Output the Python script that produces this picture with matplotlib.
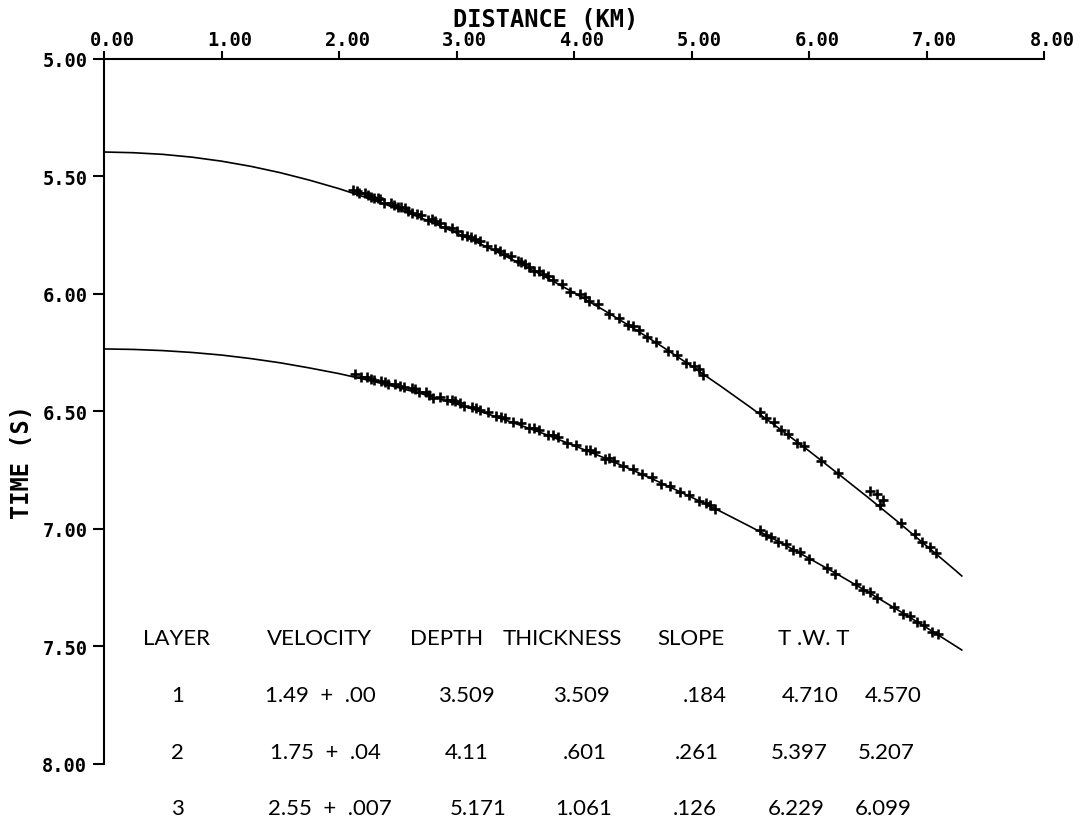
import matplotlib
matplotlib.use("Agg")
import matplotlib.pyplot as plt
import matplotlib.transforms as mtransforms

# fitted travel-time curves, km / s
curve_x = [0.0, 0.25, 0.5, 0.75, 1.0, 1.25, 1.5, 1.75, 2.0, 2.25, 2.5, 2.75, 3.0, 3.25,
           3.5, 3.75, 4.0, 4.25, 4.5, 4.75, 5.0, 5.25, 5.5, 5.75, 6.0, 6.25, 6.5, 6.75,
           7.0, 7.25, 7.3]
curve1_t = [5.396, 5.399, 5.406, 5.418, 5.435, 5.457, 5.484, 5.516, 5.552, 5.593, 5.638,
            5.687, 5.741, 5.798, 5.860, 5.926, 5.995, 6.068, 6.144, 6.224, 6.307, 6.393,
            6.482, 6.574, 6.668, 6.766, 6.865, 6.967, 7.072, 7.178, 7.200]
curve2_t = [6.234, 6.236, 6.241, 6.249, 6.260, 6.275, 6.293, 6.315, 6.339, 6.367, 6.398,
            6.431, 6.468, 6.508, 6.551, 6.596, 6.645, 6.696, 6.750, 6.806, 6.865, 6.926,
            6.990, 7.056, 7.125, 7.195, 7.268, 7.343, 7.420, 7.499, 7.515]

# picked arrivals, upper reflector
pick1_x = [2.12, 2.15, 2.17, 2.22, 2.25, 2.27, 2.30, 2.33, 2.35, 2.38, 2.44, 2.47, 2.50,
           2.53, 2.56, 2.59, 2.62, 2.66, 2.70, 2.76, 2.79, 2.82, 2.86, 2.90, 2.96, 3.00,
           3.05, 3.09, 3.12, 3.16, 3.20, 3.26, 3.33, 3.37, 3.40, 3.46, 3.52, 3.55, 3.58,
           3.62, 3.66, 3.70, 3.74, 3.78, 3.82, 3.90, 3.97, 4.05, 4.09, 4.13, 4.20, 4.30,
           4.38, 4.46, 4.50, 4.55, 4.62, 4.70, 4.80, 4.88, 4.95, 5.02, 5.06, 5.10, 5.58,
           5.63, 5.70, 5.76, 5.82, 5.90, 5.96, 6.10, 6.25, 6.52, 6.58, 6.60, 6.63, 6.78,
           6.90, 6.96, 7.03, 7.08]
pick1_t = [5.556, 5.563, 5.569, 5.571, 5.580, 5.588, 5.590, 5.593, 5.598, 5.611, 5.614,
           5.620, 5.631, 5.632, 5.634, 5.647, 5.656, 5.660, 5.666, 5.686, 5.683, 5.690,
           5.700, 5.713, 5.718, 5.733, 5.748, 5.752, 5.758, 5.765, 5.774, 5.796, 5.807,
           5.818, 5.832, 5.838, 5.859, 5.862, 5.871, 5.884, 5.904, 5.903, 5.915, 5.925,
           5.941, 5.957, 5.990, 6.002, 6.013, 6.030, 6.044, 6.087, 6.101, 6.134, 6.137,
           6.152, 6.185, 6.203, 6.244, 6.260, 6.292, 6.308, 6.320, 6.346, 6.503, 6.527,
           6.546, 6.580, 6.594, 6.634, 6.648, 6.710, 6.762, 6.838, 6.853, 6.896, 6.878,
           6.976, 7.022, 7.057, 7.075, 7.102]

# picked arrivals, lower reflector
pick2_x = [2.14, 2.19, 2.24, 2.27, 2.30, 2.36, 2.39, 2.42, 2.48, 2.52, 2.55, 2.62, 2.65,
           2.68, 2.74, 2.77, 2.80, 2.86, 2.92, 2.96, 2.99, 3.03, 3.06, 3.13, 3.17, 3.20,
           3.27, 3.34, 3.38, 3.41, 3.48, 3.55, 3.62, 3.66, 3.70, 3.78, 3.82, 3.86, 3.94,
           4.02, 4.10, 4.14, 4.18, 4.26, 4.30, 4.34, 4.42, 4.50, 4.58, 4.66, 4.74, 4.82,
           4.90, 4.98, 5.06, 5.12, 5.16, 5.20, 5.58, 5.63, 5.68, 5.74, 5.80, 5.86, 5.92,
           6.00, 6.15, 6.22, 6.40, 6.46, 6.52, 6.58, 6.72, 6.80, 6.86, 6.92, 6.98, 7.05,
           7.10]
pick2_t = [6.342, 6.354, 6.352, 6.360, 6.368, 6.369, 6.374, 6.384, 6.385, 6.392, 6.398,
           6.400, 6.406, 6.418, 6.418, 6.428, 6.441, 6.438, 6.452, 6.452, 6.456, 6.466,
           6.475, 6.480, 6.486, 6.495, 6.501, 6.521, 6.522, 6.527, 6.543, 6.551, 6.569,
           6.571, 6.579, 6.600, 6.602, 6.610, 6.635, 6.643, 6.663, 6.666, 6.673, 6.701,
           6.699, 6.709, 6.734, 6.743, 6.765, 6.779, 6.807, 6.817, 6.843, 6.854, 6.882,
           6.890, 6.897, 6.916, 7.005, 7.027, 7.034, 7.056, 7.065, 7.089, 7.100, 7.129,
           7.164, 7.191, 7.235, 7.258, 7.269, 7.295, 7.331, 7.362, 7.372, 7.397, 7.408,
           7.439, 7.449]

# layer table
headers = ["LAYER", "VELOCITY", "DEPTH", "THICKNESS", "SLOPE", "T .W. T"]
layers = ["1", "2", "3"]
velocity = ["1.49  +  .00", "1.75  +  .04", "2.55  +  .007"]
depth = ["3.509", "4.11", "5.171"]
thickness = ["3.509", ".601", "1.061"]
slope = [".184", ".261", ".126"]
twt_a = ["4.710", "5.397", "6.229"]
twt_b = ["4.570", "5.207", "6.099"]

xticks = [0, 1, 2, 3, 4, 5, 6, 7, 8]
yticks = [5.0, 5.5, 6.0, 6.5, 7.0, 7.5, 8.0]

fig = plt.figure(figsize=(10.8, 8.2), dpi=100)
ax = fig.add_axes([0.0963, 0.0671, 0.8704, 0.8598])

ax.plot(curve_x, curve1_t, color="black", lw=1.2)
ax.plot(curve_x, curve2_t, color="black", lw=1.2)
ax.plot(pick1_x, pick1_t, "+", color="black", ms=7, mew=1.9)
ax.plot(pick2_x, pick2_t, "+", color="black", ms=7, mew=1.9)

ax.set_xlim(0, 8)
ax.set_ylim(8.0, 5.0)
ax.spines["right"].set_visible(False)
ax.spines["bottom"].set_visible(False)
ax.spines["left"].set_linewidth(1.5)
ax.spines["top"].set_linewidth(1.5)

mono = {"family": "DejaVu Sans Mono", "weight": "bold"}
ax.xaxis.tick_top()
ax.set_xticks(xticks)
ax.set_xticklabels([f"{v:.2f}" for v in xticks], fontdict=mono, fontsize=13.5)
ax.set_yticks(yticks)
ax.set_yticklabels([f"{v:.2f}" for v in yticks], fontdict=mono, fontsize=13.5)
ax.tick_params(axis="x", direction="out", length=6, width=1.5, pad=1)
ax.tick_params(axis="y", direction="out", length=8, width=1.5, pad=4)
shift = mtransforms.ScaledTranslation(8 / 100, 0, fig.dpi_scale_trans)
for lbl in ax.get_xticklabels():
    lbl.set_transform(lbl.get_transform() + shift)

fig.text(546 / 1080, 1 - 20 / 820, "DISTANCE (KM)", ha="center", va="center",
         fontsize=17, **mono)
fig.text(22 / 1080, 1 - 462 / 820, "TIME (S)", ha="center", va="center",
         rotation=90, fontsize=17, **mono)

# table text (left edges in km, rows in seconds)
tf = {"family": "Lato", "fontsize": 16, "color": "black"}
head_x = [0.332, 1.387, 2.604, 3.396, 4.706, 5.736]
head_y = 7.464
row_y = [7.706, 7.951, 8.187]
for h, hx in zip(headers, head_x):
    ax.text(hx, head_y, h, ha="left", va="center", clip_on=False, **tf)

col_x = [[0.625, 0.625, 0.625],
         [1.370, 1.413, 1.396],
         [2.843, 2.902, 2.945],
         [3.821, 3.906, 3.838],
         [4.928, 4.860, 4.843],
         [5.770, 5.677, 5.651],
         [6.477, 6.417, 6.391]]
cols = [layers, velocity, depth, thickness, slope, twt_a, twt_b]
for ci, (col, xs) in enumerate(zip(cols, col_x)):
    for val, cx, ry in zip(col, xs, row_y):
        ax.text(cx, ry, val, ha="center" if ci == 0 else "left", va="center",
                clip_on=False, **tf)

fig.savefig("out.png", dpi=100, facecolor="white")
